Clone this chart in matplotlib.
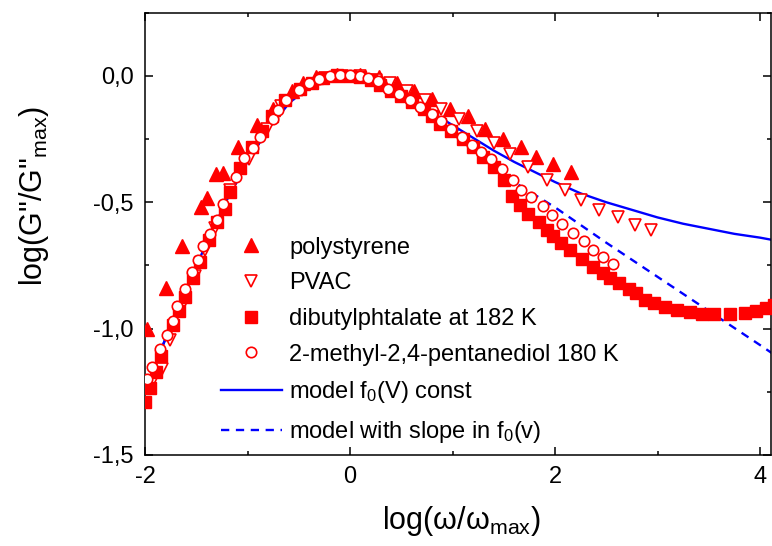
import numpy as np
import matplotlib
matplotlib.use('Agg')
import matplotlib.pyplot as plt
from matplotlib.ticker import MultipleLocator, FuncFormatter

# polystyrene (filled up triangles)
ps_x = [-1.98, -1.80, -1.64, -1.45, -1.40, -1.31, -1.24, -1.09, -0.91, -0.75, -0.57, -0.46,
        -0.33, -0.13, 0.10, 0.28, 0.46, 0.62, 0.80, 0.98, 1.15, 1.32, 1.49, 1.67, 1.81, 1.98, 2.16]
ps_y = [-1.00, -0.84, -0.675, -0.52, -0.485, -0.39, -0.385, -0.28, -0.195, -0.13, -0.06, -0.03,
        -0.005, 0.005, 0.005, -0.005, -0.03, -0.06, -0.09, -0.13, -0.16, -0.21, -0.25, -0.28, -0.32, -0.35, -0.38]

# PVAC (open down triangles)
pvac_x = [-1.94, -1.83, -1.76, -1.65, -1.51, -1.415, -1.32, -1.17, -0.99, -0.81, -0.67, -0.47,
          -0.24, -0.08, 0.10, 0.25, 0.39, 0.56, 0.73, 0.89, 1.06, 1.24, 1.40, 1.56, 1.74, 1.92,
          2.10, 2.25, 2.43, 2.61, 2.78, 2.94]
pvac_y = [-1.22, -1.16, -1.045, -0.92, -0.79, -0.69, -0.60, -0.45, -0.33, -0.21, -0.12, -0.055,
          -0.01, 0.0, 0.0, -0.015, -0.03, -0.06, -0.095, -0.13, -0.17, -0.22, -0.265, -0.31, -0.36, -0.41,
          -0.45, -0.49, -0.53, -0.56, -0.59, -0.61]

# dibutylphtalate at 182 K (filled squares)
dbp_x = [-2.00, -1.95, -1.89, -1.84, -1.73, -1.67, -1.61, -1.535, -1.46, -1.38, -1.295, -1.22,
         -1.17, -1.07, -0.96, -0.86, -0.76, -0.63, -0.49, -0.37, -0.26, -0.13, 0.0, 0.10, 0.20,
         0.29, 0.40, 0.50, 0.60, 0.72, 0.80, 0.88, 0.99, 1.10, 1.20, 1.30, 1.40, 1.50, 1.58, 1.66,
         1.74, 1.84, 1.92, 1.98, 2.06, 2.15, 2.26, 2.37, 2.47, 2.54, 2.62, 2.72, 2.79, 2.88, 2.97,
         3.07, 3.19, 3.32, 3.43, 3.55, 3.71, 3.85, 3.96, 4.06, 4.14]
dbp_y = [-1.29, -1.235, -1.17, -1.11, -0.985, -0.93, -0.875, -0.80, -0.735, -0.65, -0.58, -0.525,
         -0.46, -0.365, -0.28, -0.22, -0.16, -0.095, -0.05, -0.03, -0.01, 0.005, 0.0, -0.005, -0.015,
         -0.035, -0.06, -0.08, -0.105, -0.13, -0.16, -0.19, -0.22, -0.25, -0.28, -0.32, -0.36, -0.41,
         -0.475, -0.51, -0.545, -0.58, -0.61, -0.635, -0.66, -0.69, -0.725, -0.755, -0.78, -0.80,
         -0.82, -0.845, -0.86, -0.885, -0.90, -0.913, -0.926, -0.935, -0.942, -0.942, -0.942, -0.940,
         -0.929, -0.918, -0.905]

# 2-methyl-2,4-pentanediol 180 K (open circles)
mpd_x = [-1.98, -1.935, -1.85, -1.79, -1.73, -1.69, -1.61, -1.545, -1.48, -1.43, -1.37, -1.30,
         -1.235, -1.11, -1.03, -0.95, -0.88, -0.755, -0.70, -0.62, -0.50, -0.40, -0.30, -0.20,
         -0.10, 0.0, 0.10, 0.18, 0.27, 0.37, 0.48, 0.585, 0.68, 0.80, 0.89, 0.99, 1.09, 1.19, 1.28,
         1.38, 1.48, 1.59, 1.67, 1.77, 1.88, 1.97, 2.07, 2.18, 2.28, 2.37, 2.47, 2.57]
mpd_y = [-1.20, -1.15, -1.08, -1.025, -0.97, -0.91, -0.845, -0.775, -0.73, -0.675, -0.625, -0.57,
         -0.505, -0.40, -0.325, -0.285, -0.24, -0.17, -0.135, -0.095, -0.055, -0.03, -0.012, 0.0,
         0.005, 0.005, 0.0, -0.008, -0.02, -0.05, -0.07, -0.095, -0.125, -0.15, -0.18, -0.21, -0.24,
         -0.275, -0.30, -0.33, -0.37, -0.41, -0.45, -0.48, -0.515, -0.55, -0.585, -0.62, -0.655,
         -0.69, -0.715, -0.745]

# model curves
m_left_x = [-2.0, -1.8, -1.6, -1.4, -1.2, -1.0, -0.8, -0.6, -0.4, -0.2, 0.0, 0.2, 0.4, 0.6, 0.8, 1.0]
m_left_y = [-1.24, -1.04, -0.85, -0.66, -0.49, -0.34, -0.21, -0.11, -0.04, -0.005, 0.0, -0.015,
            -0.045, -0.095, -0.145, -0.195]
const_x = [1.2, 1.4, 1.6, 1.8, 2.0, 2.25, 2.5, 2.75, 3.0, 3.25, 3.5, 3.75, 4.0, 4.2]
const_y = [-0.245, -0.295, -0.34, -0.38, -0.42, -0.465, -0.50, -0.53, -0.56, -0.585, -0.605,
           -0.625, -0.64, -0.655]
slope_x = [1.2, 1.4, 1.6, 1.8, 2.0, 2.5, 3.0, 3.5, 4.0, 4.2]
slope_y = [-0.27, -0.355, -0.42, -0.47, -0.52, -0.66, -0.795, -0.93, -1.065, -1.12]

plt.rcParams['font.family'] = ['Liberation Sans', 'DejaVu Sans']
plt.rcParams['mathtext.fontset'] = 'custom'
plt.rcParams['mathtext.rm'] = 'Liberation Sans'
plt.rcParams['mathtext.it'] = 'Liberation Sans'
plt.rcParams['axes.unicode_minus'] = False

fig = plt.figure(figsize=(7.72, 5.46), dpi=100)
ax = fig.add_axes([145 / 772, 91 / 546, 626 / 772, 442.3 / 546])

red = '#ff0000'
blue = '#0000ff'

ax.plot(ps_x, ps_y, ls='none', marker='^', ms=10.5, color=red, mec=red, label='polystyrene', zorder=3)
ax.plot(pvac_x, pvac_y, ls='none', marker='v', ms=9, mfc='white', mec=red, mew=1.2,
        label='PVAC', zorder=3)
ax.plot(dbp_x, dbp_y, ls='none', marker='s', ms=8, color=red, mec=red,
        label='dibutylphtalate at 182 K', zorder=3)
ax.plot(mpd_x, mpd_y, ls='none', marker='o', ms=7.5, mfc='white', mec=red, mew=1.2,
        label='2-methyl-2,4-pentanediol 180 K', zorder=3)

const_line_x = m_left_x + const_x
const_line_y = m_left_y + const_y
slope_line_x = m_left_x + slope_x
slope_line_y = m_left_y + slope_y
ax.plot(const_line_x, const_line_y, color=blue, lw=1.7, label='model f$_0$(V) const', zorder=2)
ax.plot(slope_line_x, slope_line_y, color=blue, lw=1.7, ls=(0, (3.5, 2.8)),
        label='model with slope in f$_0$(v)', zorder=2)

ax.set_xlim(-2, 4.107)
ax.set_ylim(-1.5, 0.25)
ax.xaxis.set_major_locator(MultipleLocator(2))
ax.xaxis.set_minor_locator(MultipleLocator(1))
ax.yaxis.set_major_locator(MultipleLocator(0.5))
ax.yaxis.set_minor_locator(MultipleLocator(0.25))
ax.yaxis.set_major_formatter(FuncFormatter(lambda v, p: ('%.1f' % v).replace('.', ',')))
ax.xaxis.set_major_formatter(FuncFormatter(lambda v, p: '%d' % v))
ax.tick_params(which='both', direction='in', top=True, right=True, width=1.1, labelsize=17)
ax.tick_params(which='major', length=6, pad=8)
ax.tick_params(which='minor', length=3)
for s in ax.spines.values():
    s.set_linewidth(1.1)

ax.set_xlabel('log(ω/ω$_{\\mathrm{max}}$)', fontsize=22)
ax.set_ylabel('log(G"/G"$_{\\mathrm{max}}$)', fontsize=22)
ax.xaxis.set_label_coords(0.506, -0.11)
ax.yaxis.set_label_coords(-0.15, 0.585)

ax.legend(loc='upper left', bbox_to_anchor=(0.121, 0.494), frameon=False, fontsize=17,
          handlelength=2.6, handletextpad=0.3, labelspacing=0.58, borderpad=0, borderaxespad=0,
          numpoints=1)

fig.savefig('out.png', dpi=100)
